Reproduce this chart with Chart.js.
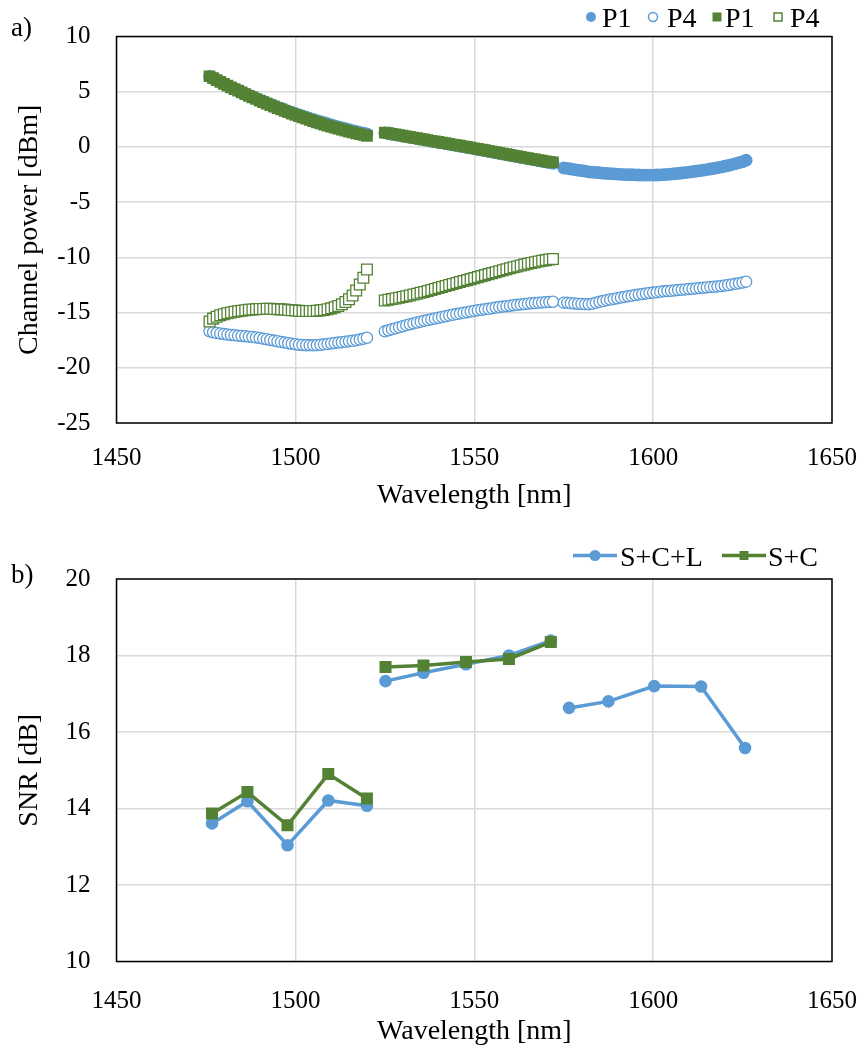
<!DOCTYPE html>
<html>
<head>
<meta charset="utf-8">
<script src="https://cdn.jsdelivr.net/npm/chart.js@4.4.1/dist/chart.umd.min.js"></script>
<style>
  html, body { margin: 0; padding: 0; background: #fff; }
  #page { position: relative; width: 864px; height: 1048px; overflow: hidden; }
  #page canvas { position: absolute; left: 0; }
  #overlay { position: absolute; left: 0; top: 0; pointer-events: none; }
  #overlay text { font-family: 'Liberation Serif', 'Times New Roman', serif; fill: #000; }
</style>
</head>
<body>
<div id="page">
  <canvas id="powerChart" width="864" height="520" style="top:0"></canvas>
  <canvas id="snrChart" width="864" height="528" style="top:520px"></canvas>
  <svg id="overlay" width="864" height="1048">
    <text x="11" y="36" font-size="27">a)</text>
    <text x="11" y="583" font-size="27">b)</text>
    <!-- legend a) -->
    <circle cx="591" cy="17" r="5" fill="#5b9bd5"/>
    <text x="602" y="27" font-size="28">P1</text>
    <circle cx="653" cy="17" r="4.5" fill="#fff" stroke="#5b9bd5" stroke-width="1.5"/>
    <text x="667" y="27" font-size="28">P4</text>
    <rect x="712.5" y="12.5" width="9" height="9" fill="#548235"/>
    <text x="725" y="27" font-size="28">P1</text>
    <rect x="774" y="13" width="8" height="8" fill="#fff" stroke="#548235" stroke-width="1.5"/>
    <text x="790" y="27" font-size="28">P4</text>
    <!-- legend b) -->
    <line x1="573" y1="555.5" x2="617" y2="555.5" stroke="#5b9bd5" stroke-width="3.5"/>
    <circle cx="595" cy="555.5" r="5.5" fill="#5b9bd5"/>
    <text x="620" y="565.5" font-size="28">S+C+L</text>
    <line x1="722" y1="555.5" x2="766" y2="555.5" stroke="#548235" stroke-width="3.5"/>
    <rect x="739.5" y="551" width="9" height="9" fill="#548235"/>
    <text x="768" y="565.5" font-size="28">S+C</text>
  </svg>
</div>
<script>
// ---- a) channel power, wavelength grids per band (nm)
const wlS = [1476,1477,1478,1479,1480,1481,1482,1483,1484,1485,1486,1487,1488,1489,1490,
  1491,1492,1493,1494,1495,1496,1497,1498,1499,1500,1501,1502,1503,1504,1505,
  1506,1507,1508,1509,1510,1511,1512,1513,1514,1515,1516,1517,1518,1519,1520];
const wlC = [1525,1526,1527,1528,1529,1530,1531,1532,1533,1534,1535,1536,1537,1538,1539,1540,
  1541,1542,1543,1544,1545,1546,1547,1548,1549,1550,1551,1552,1553,1554,1555,1556,
  1557,1558,1559,1560,1561,1562,1563,1564,1565,1566,1567,1568,1569,1570,1571,1572];
const wlL = [1575,1576,1577,1578,1579,1580,1581,1582,1583,1584,1585,1586,1587,1588,1589,1590,
  1591,1592,1593,1594,1595,1596,1597,1598,1599,1600,1601,1602,1603,1604,1605,1606,
  1607,1608,1609,1610,1611,1612,1613,1614,1615,1616,1617,1618,1619,1620,1621,1622,
  1623,1624,1625,1626];

// S+C+L system (blue), P1 and P4 in dBm
const p1SCL_S = [6.38,6.22,6.06,5.90,5.73,5.57,5.42,5.26,5.11,4.96,4.81,4.67,4.53,4.39,4.26,
  4.13,3.99,3.86,3.73,3.61,3.49,3.37,3.25,3.13,3.02,2.91,2.80,2.70,2.59,2.49,
  2.39,2.29,2.19,2.10,2.00,1.91,1.82,1.73,1.65,1.56,1.48,1.40,1.32,1.25,1.18];
const p1SCL_C = [1.28,1.22,1.16,1.10,1.05,0.99,0.93,0.87,0.82,0.76,0.70,0.65,0.59,0.53,0.48,0.42,
  0.36,0.31,0.25,0.19,0.14,0.08,0.02,-0.04,-0.10,-0.16,-0.22,-0.28,-0.34,-0.40,-0.46,-0.52,
  -0.58,-0.64,-0.70,-0.76,-0.82,-0.88,-0.94,-1.00,-1.06,-1.12,-1.18,-1.24,-1.30,-1.36,-1.42,-1.48];
const p1SCL_L = [-1.90,-1.95,-2.00,-2.05,-2.10,-2.15,-2.20,-2.25,-2.28,-2.31,-2.34,-2.37,-2.40,
  -2.42,-2.44,-2.46,-2.48,-2.50,-2.51,-2.52,-2.53,-2.54,-2.55,-2.55,-2.55,-2.55,-2.54,
  -2.53,-2.51,-2.49,-2.46,-2.43,-2.40,-2.36,-2.32,-2.28,-2.24,-2.20,-2.15,-2.10,-2.05,
  -2.00,-1.94,-1.88,-1.82,-1.75,-1.68,-1.60,-1.52,-1.43,-1.33,-1.20];
const p4SCL_S = [-16.70,-16.78,-16.84,-16.90,-16.95,-16.99,-17.03,-17.06,-17.09,-17.12,
  -17.15,-17.18,-17.21,-17.25,-17.30,-17.36,-17.42,-17.48,-17.54,-17.60,
  -17.66,-17.72,-17.77,-17.82,-17.87,-17.91,-17.94,-17.96,-17.97,-17.97,
  -17.95,-17.92,-17.88,-17.84,-17.80,-17.76,-17.72,-17.68,-17.64,-17.60,
  -17.55,-17.50,-17.44,-17.37,-17.28];
const p4SCL_C = [-16.70,-16.60,-16.50,-16.41,-16.32,-16.23,-16.14,-16.06,-15.98,-15.90,
  -15.82,-15.75,-15.68,-15.61,-15.54,-15.47,-15.40,-15.33,-15.26,-15.20,
  -15.14,-15.08,-15.02,-14.96,-14.90,-14.85,-14.80,-14.75,-14.70,-14.65,
  -14.60,-14.55,-14.50,-14.46,-14.42,-14.38,-14.34,-14.30,-14.26,-14.22,
  -14.19,-14.16,-14.13,-14.10,-14.08,-14.06,-14.04,-14.02];
const p4SCL_L = [-14.10,-14.12,-14.15,-14.18,-14.20,-14.22,-14.24,-14.25,-14.20,-14.12,
  -14.03,-13.95,-13.88,-13.82,-13.76,-13.70,-13.64,-13.58,-13.52,-13.47,
  -13.42,-13.37,-13.32,-13.27,-13.23,-13.19,-13.15,-13.11,-13.08,-13.05,
  -13.02,-12.99,-12.96,-12.93,-12.90,-12.87,-12.84,-12.81,-12.78,-12.75,
  -12.72,-12.69,-12.66,-12.63,-12.59,-12.55,-12.50,-12.45,-12.40,-12.34,
  -12.28,-12.20];

// S+C system (green)
const p1SC_S = [6.40,6.23,6.06,5.89,5.72,5.56,5.40,5.24,5.09,4.93,4.78,4.63,4.48,4.34,4.20,
  4.06,3.92,3.78,3.65,3.52,3.39,3.27,3.14,3.02,2.90,2.79,2.67,2.56,2.45,2.34,
  2.23,2.13,2.03,1.93,1.83,1.74,1.65,1.56,1.47,1.39,1.31,1.23,1.15,1.08,1.00];
const p1SC_C = [1.30,1.24,1.19,1.13,1.07,1.02,0.96,0.90,0.85,0.79,0.73,0.68,0.62,0.56,0.51,0.45,
  0.39,0.34,0.28,0.22,0.17,0.11,0.05,0.00,-0.06,-0.12,-0.18,-0.24,-0.30,-0.36,-0.42,-0.48,
  -0.54,-0.60,-0.66,-0.72,-0.78,-0.84,-0.90,-0.96,-1.02,-1.08,-1.13,-1.19,-1.25,-1.30,-1.35,-1.40];
const p4SC_S = [-15.80,-15.55,-15.38,-15.25,-15.15,-15.06,-14.99,-14.93,-14.88,-14.83,
  -14.79,-14.75,-14.72,-14.70,-14.68,-14.67,-14.66,-14.66,-14.67,-14.69,
  -14.71,-14.73,-14.76,-14.79,-14.81,-14.83,-14.85,-14.86,-14.86,-14.85,
  -14.83,-14.80,-14.76,-14.70,-14.62,-14.52,-14.40,-14.25,-14.05,-13.80,
  -13.45,-13.00,-12.45,-11.85,-11.10];
const p4SC_C = [-13.90,-13.84,-13.78,-13.72,-13.66,-13.59,-13.52,-13.45,-13.37,-13.29,
  -13.21,-13.13,-13.05,-12.96,-12.87,-12.78,-12.69,-12.60,-12.51,-12.42,
  -12.33,-12.24,-12.15,-12.06,-11.97,-11.88,-11.79,-11.70,-11.61,-11.52,
  -11.43,-11.34,-11.25,-11.16,-11.07,-10.98,-10.90,-10.82,-10.74,-10.66,
  -10.58,-10.51,-10.44,-10.37,-10.31,-10.25,-10.20,-10.15];

// ---- b) SNR per channel
const snrWl   = [1476.7, 1486.6, 1497.8, 1509.2, 1520.0, 1525.2, 1535.8, 1547.7, 1559.7, 1571.4,
                 1576.5, 1587.5, 1600.3, 1613.4, 1625.7];
const snrBand = ['S','S','S','S','S','C','C','C','C','C','L','L','L','L','L'];
const snrSCL  = [13.61, 14.19, 13.04, 14.21, 14.07, 17.33, 17.55, 17.77, 18.00, 18.39,
                 16.63, 16.80, 17.20, 17.19, 15.58];
const snrSC   = [13.87, 14.43, 13.56, 14.90, 14.26, 17.70, 17.74, 17.83, 17.91, 18.35];

const BLUE = '#5b9bd5';
const GREEN = '#548235';
const FONT = "'Liberation Serif', 'Times New Roman', serif";

Chart.defaults.font.family = FONT;
Chart.defaults.color = '#000';

function pts(xs, ys) {
  return xs.map((x, i) => ({ x: x, y: ys[i] }));
}

// break the line between bands
function withGaps(xs, bands, ys) {
  const out = [];
  ys.forEach((y, i) => {
    if (i > 0 && bands[i] !== bands[i - 1]) out.push({ x: (xs[i] + xs[i - 1]) / 2, y: null });
    out.push({ x: xs[i], y: y });
  });
  return out;
}

// black frame round the plot area
const frame = {
  id: 'frame',
  beforeDatasetsDraw(chart) {
    const { ctx, chartArea: a } = chart;
    ctx.save();
    ctx.strokeStyle = '#000';
    ctx.lineWidth = 1.5;
    ctx.strokeRect(a.left, a.top, a.right - a.left, a.bottom - a.top);
    ctx.restore();
  }
};

function baseOptions(o) {
  return {
    responsive: false,
    animation: false,
    devicePixelRatio: 1,
    events: [],
    layout: { padding: { top: o.top, right: 32, bottom: 0, left: 0 } },
    plugins: { legend: { display: false }, tooltip: { enabled: false } },
    scales: {
      x: {
        type: 'linear',
        min: 1450, max: 1650,
        ticks: {
          stepSize: 50, padding: o.xTickPad, autoSkip: false, maxRotation: 0,
          font: { size: 25 }, color: '#000',
          callback: v => String(v)
        },
        grid: { color: '#d9d9d9', lineWidth: 1.5, drawTicks: false },
        border: { display: false },
        title: {
          display: true, text: 'Wavelength [nm]', color: '#000',
          font: { size: 28 }, padding: { top: 0, bottom: o.xTitlePad }
        },
        afterFit: s => { s.height = o.xHeight; s.paddingLeft = 0; s.paddingRight = 0; }
      },
      y: {
        min: o.yMin, max: o.yMax,
        ticks: { stepSize: o.yStep, padding: 26, font: { size: 25 }, color: '#000',
                 callback: v => String(v) },
        grid: { color: '#d9d9d9', lineWidth: 1.5, drawTicks: false },
        border: { display: false },
        title: {
          display: true, text: o.yTitle, color: '#000',
          font: { size: 28 }, padding: { top: 13, bottom: 0 }
        },
        afterFit: s => { s.width = 116.5; s.paddingTop = 0; s.paddingBottom = 0; }
      }
    }
  };
}

new Chart(document.getElementById('powerChart'), {
  type: 'scatter',
  data: {
    datasets: [
      {
        label: 'P1', order: 4,
        data: pts(wlS, p1SCL_S).concat(pts(wlC, p1SCL_C), pts(wlL, p1SCL_L)),
        pointStyle: 'circle', pointRadius: 6.4, pointBorderWidth: 0,
        backgroundColor: BLUE, borderColor: BLUE
      },
      {
        label: 'P4', order: 3,
        data: pts(wlS, p4SCL_S).concat(pts(wlC, p4SCL_C), pts(wlL, p4SCL_L)),
        pointStyle: 'circle', pointRadius: 5.6, pointBorderWidth: 1.3,
        backgroundColor: '#fff', borderColor: BLUE
      },
      {
        label: 'P1', order: 2,
        data: pts(wlS, p1SC_S).concat(pts(wlC, p1SC_C)),
        pointStyle: 'rect', pointRadius: 8.3, pointBorderWidth: 0,
        backgroundColor: GREEN, borderColor: GREEN
      },
      {
        label: 'P4', order: 1,
        data: pts(wlS, p4SC_S).concat(pts(wlC, p4SC_C)),
        pointStyle: 'rect', pointRadius: 7.6, pointBorderWidth: 1.3,
        backgroundColor: '#fff', borderColor: GREEN
      }
    ]
  },
  options: baseOptions({
    top: 36.5, xHeight: 97, xTickPad: 20, xTitlePad: 8,
    yMin: -25, yMax: 10, yStep: 5, yTitle: 'Channel power [dBm]'
  }),
  plugins: [frame]
});

new Chart(document.getElementById('snrChart'), {
  type: 'scatter',
  data: {
    datasets: [
      {
        label: 'S+C+L', order: 2,
        data: withGaps(snrWl, snrBand, snrSCL),
        showLine: true, spanGaps: false, tension: 0,
        borderColor: BLUE, backgroundColor: BLUE, borderWidth: 3.5,
        pointStyle: 'circle', pointRadius: 6.3, pointBorderWidth: 0
      },
      {
        label: 'S+C', order: 1,
        data: withGaps(snrWl.slice(0, snrSC.length), snrBand.slice(0, snrSC.length), snrSC),
        showLine: true, spanGaps: false, tension: 0,
        borderColor: GREEN, backgroundColor: GREEN, borderWidth: 3.5,
        pointStyle: 'rect', pointRadius: 8.5, pointBorderWidth: 0
      }
    ]
  },
  options: baseOptions({
    top: 59, xHeight: 86.5, xTickPad: 25, xTitlePad: 0,
    yMin: 10, yMax: 20, yStep: 2, yTitle: 'SNR [dB]'
  }),
  plugins: [frame]
});
</script>
</body>
</html>
